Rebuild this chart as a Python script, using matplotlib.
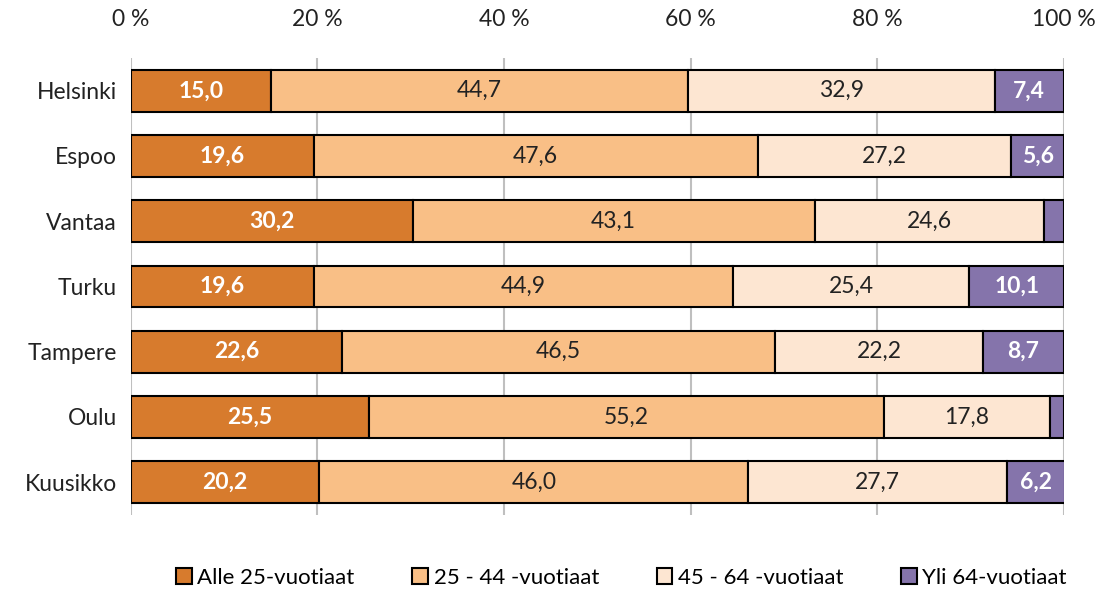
import numpy as np
import matplotlib.pyplot as plt

plt.rcParams['font.family'] = ['Lato', 'DejaVu Sans']

cities = ["Helsinki", "Espoo", "Vantaa", "Turku", "Tampere", "Oulu", "Kuusikko"]
alle25 = [15.0, 19.6, 30.2, 19.6, 22.6, 25.5, 20.2]
v25_44 = [44.7, 47.6, 43.1, 44.9, 46.5, 55.2, 46.0]
v45_64 = [32.9, 27.2, 24.6, 25.4, 22.2, 17.8, 27.7]
yli64 = [7.4, 5.6, 2.1, 10.1, 8.7, 1.5, 6.2]
series_names = ["Alle 25-vuotiaat", "25 - 44 -vuotiaat", "45 - 64 -vuotiaat", "Yli 64-vuotiaat"]
colors = ["#D77B2D", "#F9BF86", "#FDE6D2", "#8574AB"]
text_colors = ["white", "#222222", "#222222", "white"]
text_weights = ["bold", "normal", "normal", "bold"]

fig = plt.figure(figsize=(11, 5.93), dpi=100)
ax = fig.add_axes([0.119, 0.132, 0.848, 0.770])

y = np.arange(len(cities))
left = np.zeros(len(cities))
for vals, name, c, tc, tw in zip([alle25, v25_44, v45_64, yli64], series_names, colors, text_colors, text_weights):
    vals = np.array(vals)
    ax.barh(y, vals, left=left, height=0.64, color=c, edgecolor="black", linewidth=1.5, label=name, zorder=3)
    for yi, l, v in zip(y, left, vals):
        if v >= 3:
            ax.text(l + v / 2, yi, f"{v:.1f}".replace(".", ","), ha="center", va="center",
                    fontsize=16.5, color=tc, fontweight=tw, zorder=4)
    left = left + vals

ax.set_xlim(0, 100)
ax.set_ylim(6.5, -0.5)
ax.set_yticks(y)
ax.set_yticklabels(cities, fontsize=16.5)
ax.set_xticks(np.arange(0, 101, 20))
ax.set_xticklabels([f"{t} %" for t in range(0, 101, 20)], fontsize=16.5)
ax.xaxis.tick_top()
ax.tick_params(axis="both", length=0, pad=10, colors="#222222")
ax.tick_params(axis="x", pad=20)
ax.grid(axis="x", color="#BFBFBF", linewidth=1.5, zorder=0)
for s in ax.spines.values():
    s.set_visible(False)

leg = fig.legend(loc="lower center", bbox_to_anchor=(0.565, -0.025), ncol=4, frameon=False, fontsize=16,
                 handlelength=0.7, handleheight=0.7, handletextpad=0.25, columnspacing=2.6)
for h in leg.legend_handles:
    h.set_edgecolor("black")
    h.set_linewidth(1.5)

fig.savefig("out.png", dpi=100)
